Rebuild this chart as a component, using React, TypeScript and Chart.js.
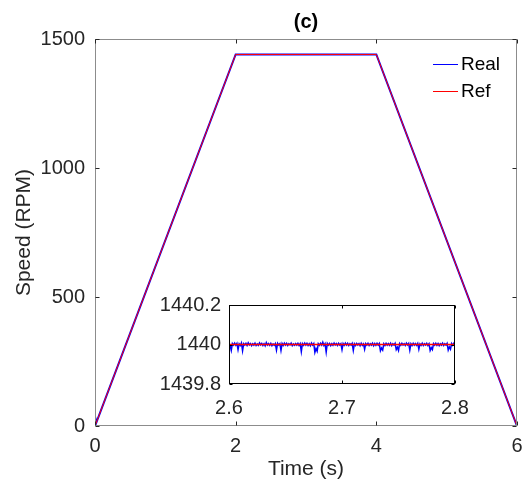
import React, { useEffect, useRef } from "react";
import { Chart, registerables } from "chart.js";

Chart.register(...registerables);

// ---------- data ----------
const MAIN_TIME = [0, 2, 4, 6];
const REF_SPEED = [0, 1440, 1440, 0];
const REAL_TIME = [0, 0.004, 0.02, 2, 4, 6];
const REAL_SPEED = [0, 32, 14, 1440, 1440, 0];
const MAIN_X_TICKS = [0, 2, 4, 6];
const MAIN_Y_TICKS = [0, 500, 1000, 1500];

const INSET_X_TICKS = [2.6, 2.7, 2.8];
const INSET_Y_TICKS = [1439.8, 1440, 1440.2];
const INSET_T0 = 2.6;
const INSET_DT = 0.001;
const INSET_REAL = [
  1440.004, 1439.994, 1439.97, 1440.005, 1439.997, 1440.007, 1439.996, 1440.006, 1439.974, 1440.003,
  1439.995, 1440.008, 1439.968, 1440.004, 1439.997, 1440.006, 1439.995, 1440.009, 1439.998, 1440.005,
  1439.994, 1440.004, 1439.997, 1440.007, 1439.995, 1440.003, 1439.996, 1440.008, 1439.998, 1440.006,
  1439.995, 1440.004, 1439.993, 1440.01, 1439.997, 1440.005, 1439.996, 1440.006, 1439.994, 1440.003,
  1439.996, 1440.005, 1439.972, 1440.006, 1439.997, 1440.004, 1439.97, 1440.005, 1439.995, 1440.007,
  1439.997, 1440.006, 1439.995, 1440.004, 1439.998, 1440.007, 1439.994, 1440.003, 1439.996, 1440.005,
  1439.997, 1440.006, 1439.995, 1440.004, 1439.964, 1440.005, 1439.996, 1440.007, 1439.997, 1440.006,
  1439.995, 1440.004, 1439.994, 1440.008, 1439.997, 1440.005, 1439.96, 1439.98, 1439.966, 1440.004,
  1439.996, 1440.006, 1439.997, 1440.012, 1439.995, 1440.004, 1439.962, 1440.006, 1439.997, 1440.005,
  1439.994, 1440.004, 1439.996, 1440.007, 1439.998, 1440.005, 1439.995, 1440.006, 1439.997, 1440.004,
  1439.974, 1440.005, 1439.996, 1440.007, 1439.997, 1440.006, 1439.995, 1440.004, 1439.997, 1440.006,
  1439.97, 1440.004, 1439.995, 1440.006, 1439.998, 1440.005, 1439.994, 1440.007, 1439.996, 1440.003,
  1439.976, 1440.005, 1439.997, 1440.006, 1439.995, 1440.004, 1439.997, 1440.007, 1439.994, 1440.005,
  1439.996, 1440.006, 1439.997, 1440.005, 1439.968, 1439.982, 1439.972, 1440.004, 1439.995, 1440.006,
  1439.997, 1440.005, 1439.996, 1440.007, 1439.994, 1440.004, 1439.997, 1440.006, 1439.974, 1439.986,
  1439.97, 1440.005, 1439.996, 1440.006, 1439.997, 1440.004, 1439.995, 1440.007, 1439.998, 1440.006,
  1439.972, 1440.004, 1439.995, 1440.006, 1439.997, 1440.005, 1439.996, 1440.006, 1439.976, 1440.003,
  1439.996, 1440.007, 1439.995, 1440.004, 1439.997, 1440.006, 1439.995, 1440.004, 1439.97, 1439.984,
  1439.974, 1440.005, 1439.997, 1440.006, 1439.996, 1440.005, 1439.994, 1440.004, 1439.997, 1440.007,
  1439.995, 1440.004, 1439.997, 1440.006, 1439.972, 1439.988, 1439.976, 1440.005, 1439.996, 1440.006,
  1439.997,
];
const INSET_REF_TIME = [2.6, 2.8];
const INSET_REF = [1440, 1440];

// ---------- style ----------
const FAMILY = "'Liberation Sans', Arial, Helvetica, sans-serif";
const TEXT = "#262626";
const fmt = (v: number) => String(Number(Number(v).toFixed(1)));

const boxPlugin = {
  id: "axesBox",
  afterDatasetsDraw(chart: any, _a: any, opts: any) {
    const { ctx, chartArea: a, scales } = chart;
    const x = scales.x;
    const y = scales.y;
    const L = Math.round(a.left) + 0.5;
    const R = Math.round(a.right) - 0.5;
    const T = Math.round(a.top) + 0.5;
    const B = Math.round(a.bottom) - 0.5;
    ctx.save();
    ctx.lineWidth = 1;
    ctx.strokeStyle = opts.boxColor;
    ctx.strokeRect(L, T, R - L, B - T);
    ctx.strokeStyle = opts.tickColor;
    ctx.beginPath();
    const len = opts.tickLen;
    x.ticks.forEach((t: any) => {
      const px = Math.round(x.getPixelForValue(t.value)) + 0.5;
      ctx.moveTo(px, B);
      ctx.lineTo(px, B - len);
      ctx.moveTo(px, T);
      ctx.lineTo(px, T + len);
    });
    y.ticks.forEach((t: any) => {
      const py = Math.round(y.getPixelForValue(t.value)) + 0.5;
      ctx.moveTo(L, py);
      ctx.lineTo(L + len, py);
      ctx.moveTo(R, py);
      ctx.lineTo(R - len, py);
    });
    ctx.stroke();
    ctx.restore();
  },
};

const titleLegendPlugin = {
  id: "titleLegend",
  afterDraw(chart: any, _a: any, opts: any) {
    if (!opts || !opts.enabled) return;
    const { ctx, chartArea: a } = chart;
    ctx.save();
    ctx.fillStyle = "#000";
    ctx.font = `bold 20px ${FAMILY}`;
    ctx.textAlign = "center";
    ctx.textBaseline = "middle";
    ctx.fillText(opts.title, (a.left + a.right) / 2, a.top - 17);
    ctx.font = `19px ${FAMILY}`;
    ctx.textAlign = "left";
    chart.data.datasets.forEach((ds: any, i: number) => {
      const yy = Math.round(a.top + 25 + i * 27);
      const x0 = Math.round(a.right - 84);
      ctx.strokeStyle = ds.borderColor;
      ctx.lineWidth = 1;
      ctx.beginPath();
      ctx.moveTo(x0, yy + 0.5);
      ctx.lineTo(x0 + 25, yy + 0.5);
      ctx.stroke();
      ctx.fillStyle = "#000";
      ctx.fillText(ds.label, x0 + 28, yy + 1);
    });
    ctx.restore();
  },
};

const zeroPad = (s: any) => {
  s.paddingLeft = 0;
  s.paddingRight = 0;
};

export default function App() {
  const mainRef = useRef<HTMLCanvasElement | null>(null);
  const insetRef = useRef<HTMLCanvasElement | null>(null);

  useEffect(() => {
    const tickFont = { family: FAMILY, size: 20 };
    const main = new Chart(mainRef.current as HTMLCanvasElement, {
      type: "line",
      data: {
        datasets: [
          {
            label: "Real",
            data: REAL_TIME.map((t, i) => ({ x: t, y: REAL_SPEED[i] })),
            borderColor: "#0000ff",
            borderWidth: 2,
            pointRadius: 0,
            order: 1,
          },
          {
            label: "Ref",
            data: MAIN_TIME.map((t, i) => ({ x: t, y: REF_SPEED[i] })),
            borderColor: "#ff0000",
            borderWidth: 1,
            pointRadius: 0,
            order: 0,
          },
        ],
      },
      options: {
        animation: false,
        responsive: false,
        layout: { padding: { left: 0, right: 5, top: 39, bottom: 0 } },
        plugins: {
          legend: { display: false },
          tooltip: { enabled: false },
          axesBox: { boxColor: "#8c8c8c", tickColor: "#262626", tickLen: 4 },
          titleLegend: { enabled: true, title: "(c)" },
        } as any,
        scales: {
          x: {
            type: "linear",
            min: 0,
            max: 6,
            afterBuildTicks: (s: any) => {
              s.ticks = MAIN_X_TICKS.map((v) => ({ value: v }));
            },
            afterFit: (s: any) => {
              s.height = 61;
              zeroPad(s);
            },
            grid: { display: false, drawTicks: false },
            border: { display: false },
            ticks: { font: tickFont, color: TEXT, padding: 8, maxRotation: 0, callback: (v: any) => fmt(v) },
            title: { display: true, text: "Time (s)", font: { family: FAMILY, size: 21 }, color: TEXT, padding: { top: 0, bottom: 5 } },
          },
          y: {
            type: "linear",
            min: 0,
            max: 1500,
            afterBuildTicks: (s: any) => {
              s.ticks = MAIN_Y_TICKS.map((v) => ({ value: v }));
            },
            afterFit: (s: any) => {
              s.width = 95;
            },
            grid: { display: false, drawTicks: false },
            border: { display: false },
            ticks: { font: tickFont, color: TEXT, padding: 10, callback: (v: any) => fmt(v) },
            title: { display: true, text: "Speed (RPM)", font: { family: FAMILY, size: 21 }, color: TEXT, padding: { top: 12, bottom: 0 } },
          },
        },
      } as any,
      plugins: [boxPlugin, titleLegendPlugin],
    });

    const inset = new Chart(insetRef.current as HTMLCanvasElement, {
      type: "line",
      data: {
        datasets: [
          {
            label: "Real",
            data: INSET_REAL.map((v, i) => ({ x: INSET_T0 + i * INSET_DT, y: v })),
            borderColor: "#0000ff",
            borderWidth: 1.5,
            pointRadius: 0,
            order: 1,
          },
          {
            label: "Ref",
            data: INSET_REF_TIME.map((t, i) => ({ x: t, y: INSET_REF[i] })),
            borderColor: "#ff0000",
            borderWidth: 1.5,
            pointRadius: 0,
            order: 0,
          },
        ],
      },
      options: {
        animation: false,
        responsive: false,
        layout: { padding: { left: 0, right: 15, top: 18, bottom: 0 } },
        plugins: {
          legend: { display: false },
          tooltip: { enabled: false },
          axesBox: { boxColor: "#000000", tickColor: "#000000", tickLen: 3 },
          titleLegend: { enabled: false },
        } as any,
        scales: {
          x: {
            type: "linear",
            min: 2.6,
            max: 2.8,
            afterBuildTicks: (s: any) => {
              s.ticks = INSET_X_TICKS.map((v) => ({ value: v }));
            },
            afterFit: (s: any) => {
              s.height = 41;
              zeroPad(s);
            },
            grid: { display: false, drawTicks: false },
            border: { display: false },
            ticks: { font: tickFont, color: TEXT, padding: 12, maxRotation: 0, callback: (v: any) => fmt(v) },
          },
          y: {
            type: "linear",
            min: 1439.8,
            max: 1440.2,
            afterBuildTicks: (s: any) => {
              s.ticks = INSET_Y_TICKS.map((v) => ({ value: v }));
            },
            afterFit: (s: any) => {
              s.width = 89;
            },
            grid: { display: false, drawTicks: false },
            border: { display: false },
            ticks: { font: tickFont, color: TEXT, padding: 8, callback: (v: any) => fmt(v) },
          },
        },
      } as any,
      plugins: [boxPlugin],
    });

    return () => {
      main.destroy();
      inset.destroy();
    };
  }, []);

  return (
    <div style={{ position: "absolute", left: 0, top: 0, width: 522, height: 487, background: "#fff" }}>
      <canvas ref={mainRef} width={522} height={487} style={{ position: "absolute", left: 0, top: 0, width: 522, height: 487 }} />
      <canvas
        ref={insetRef}
        width={330}
        height={140}
        style={{ position: "absolute", left: 140, top: 285, width: 330, height: 140 }}
      />
    </div>
  );
}
